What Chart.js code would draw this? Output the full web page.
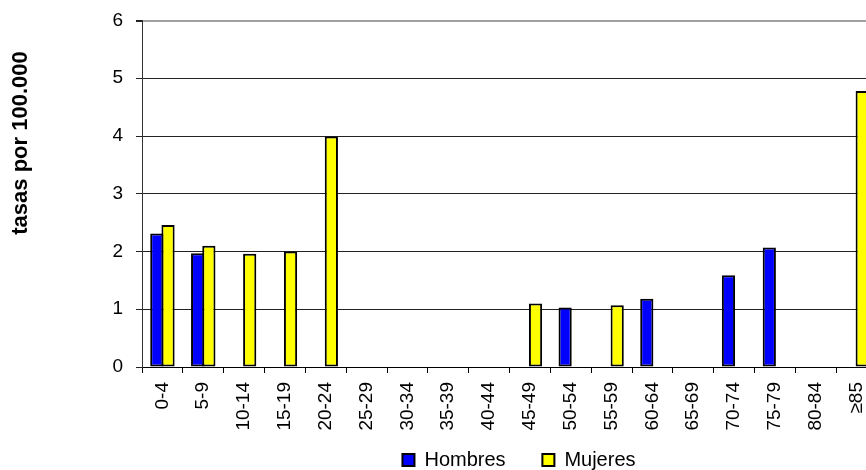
<!DOCTYPE html>
<html>
<head>
<meta charset="utf-8">
<script src="https://cdn.jsdelivr.net/npm/chart.js@4"></script>
<style>
  html, body { margin: 0; padding: 0; overflow: hidden; background: #fff; }
  #wrap { position: relative; width: 1038px; height: 470px; }
</style>
</head>
<body>
<div id="wrap"><canvas id="chart"></canvas></div>
<script>
const categories = ['0-4', '5-9', '10-14', '15-19', '20-24', '25-29', '30-34', '35-39', '40-44',
  '45-49', '50-54', '55-59', '60-64', '65-69', '70-74', '75-79', '80-84', '≥85'];
const hombres = [2.31, 1.97, 0, 0, 0, 0, 0, 0, 0, 0, 1.03, 0, 1.18, 0, 1.59, 2.07, 0, 0];
const mujeres = [2.46, 2.10, 1.96, 2.00, 3.99, 0, 0, 0, 0, 1.10, 0, 1.07, 0, 0, 0, 0, 0, 4.78];
const yTitle = 'tasas por 100.000';

const FONT = "'Liberation Sans', Arial, sans-serif";

// y axis title sits higher than the plot centre in the original, so draw it by hand
const yTitlePlugin = {
  id: 'yTitle',
  afterDraw(chart) {
    const ctx = chart.ctx;
    ctx.save();
    ctx.translate(21, 143);
    ctx.rotate(-Math.PI / 2);
    ctx.font = `bold 22px ${FONT}`;
    ctx.fillStyle = '#000';
    ctx.textAlign = 'center';
    ctx.textBaseline = 'middle';
    ctx.fillText(yTitle, 0, 0);
    ctx.restore();
  },
};

new Chart(document.getElementById('chart'), {
  type: 'bar',
  data: {
    labels: categories,
    datasets: [
      {
        label: 'Hombres',
        data: hombres,
        backgroundColor: '#0000ff',
        borderColor: '#000',
        borderWidth: 2,
        borderSkipped: false,
      },
      {
        label: 'Mujeres',
        data: mujeres,
        backgroundColor: '#ffff00',
        borderColor: '#000',
        borderWidth: 2,
        borderSkipped: false,
      },
    ],
  },
  options: {
    responsive: true,
    maintainAspectRatio: false,
    animation: false,
    datasets: {
      // bars slightly wider than their slot so neighbouring borders overlap into one line
      bar: { categoryPercentage: 0.55, barPercentage: 1.175 },
    },
    layout: { padding: { left: 0, right: 0, top: 20.5, bottom: -10 } },
    plugins: {
      tooltip: { enabled: false },
      legend: {
        position: 'bottom',
        labels: {
          boxWidth: 12,
          boxHeight: 12,
          padding: 9,
          color: '#000',
          font: { family: FONT, size: 20 },
          generateLabels(c) {
            const items = Chart.defaults.plugins.legend.labels.generateLabels(c);
            items[0].text += '     ';
            return items;
          },
        },
      },
    },
    scales: {
      x: {
        afterFit: (s) => { s.height = 74; },
        grid: { offset: true, drawOnChartArea: false, tickLength: 6, color: '#000' },
        border: { color: '#000', width: 1 },
        ticks: {
          autoSkip: false,
          minRotation: 90,
          maxRotation: 90,
          padding: 9,
          color: '#000',
          font: { family: FONT, size: 19 },
        },
      },
      y: {
        min: 0,
        max: 6,
        afterFit: (s) => {
          s.width = 142;
          s.paddingTop = 0;
          s.paddingBottom = 0;
        },
        grid: {
          color: (c) => (c.tick && c.tick.value === 6 ? '#a0a0a0' : '#222'),
          lineWidth: (c) => (c.tick && c.tick.value === 6 ? 2 : 1),
          tickColor: '#222',
          tickLength: 6,
        },
        border: { color: '#333', width: 1 },
        ticks: {
          stepSize: 1,
          padding: 13,
          color: '#000',
          font: { family: FONT, size: 19 },
        },
      },
      // empty right-hand strip: the plot runs past the picture's right edge
      y2: {
        type: 'linear',
        position: 'right',
        afterFit: (s) => { s.width = 161; },
        grid: { display: false },
        border: { display: false },
        ticks: { display: false },
      },
    },
  },
  plugins: [yTitlePlugin],
});
</script>
</body>
</html>
